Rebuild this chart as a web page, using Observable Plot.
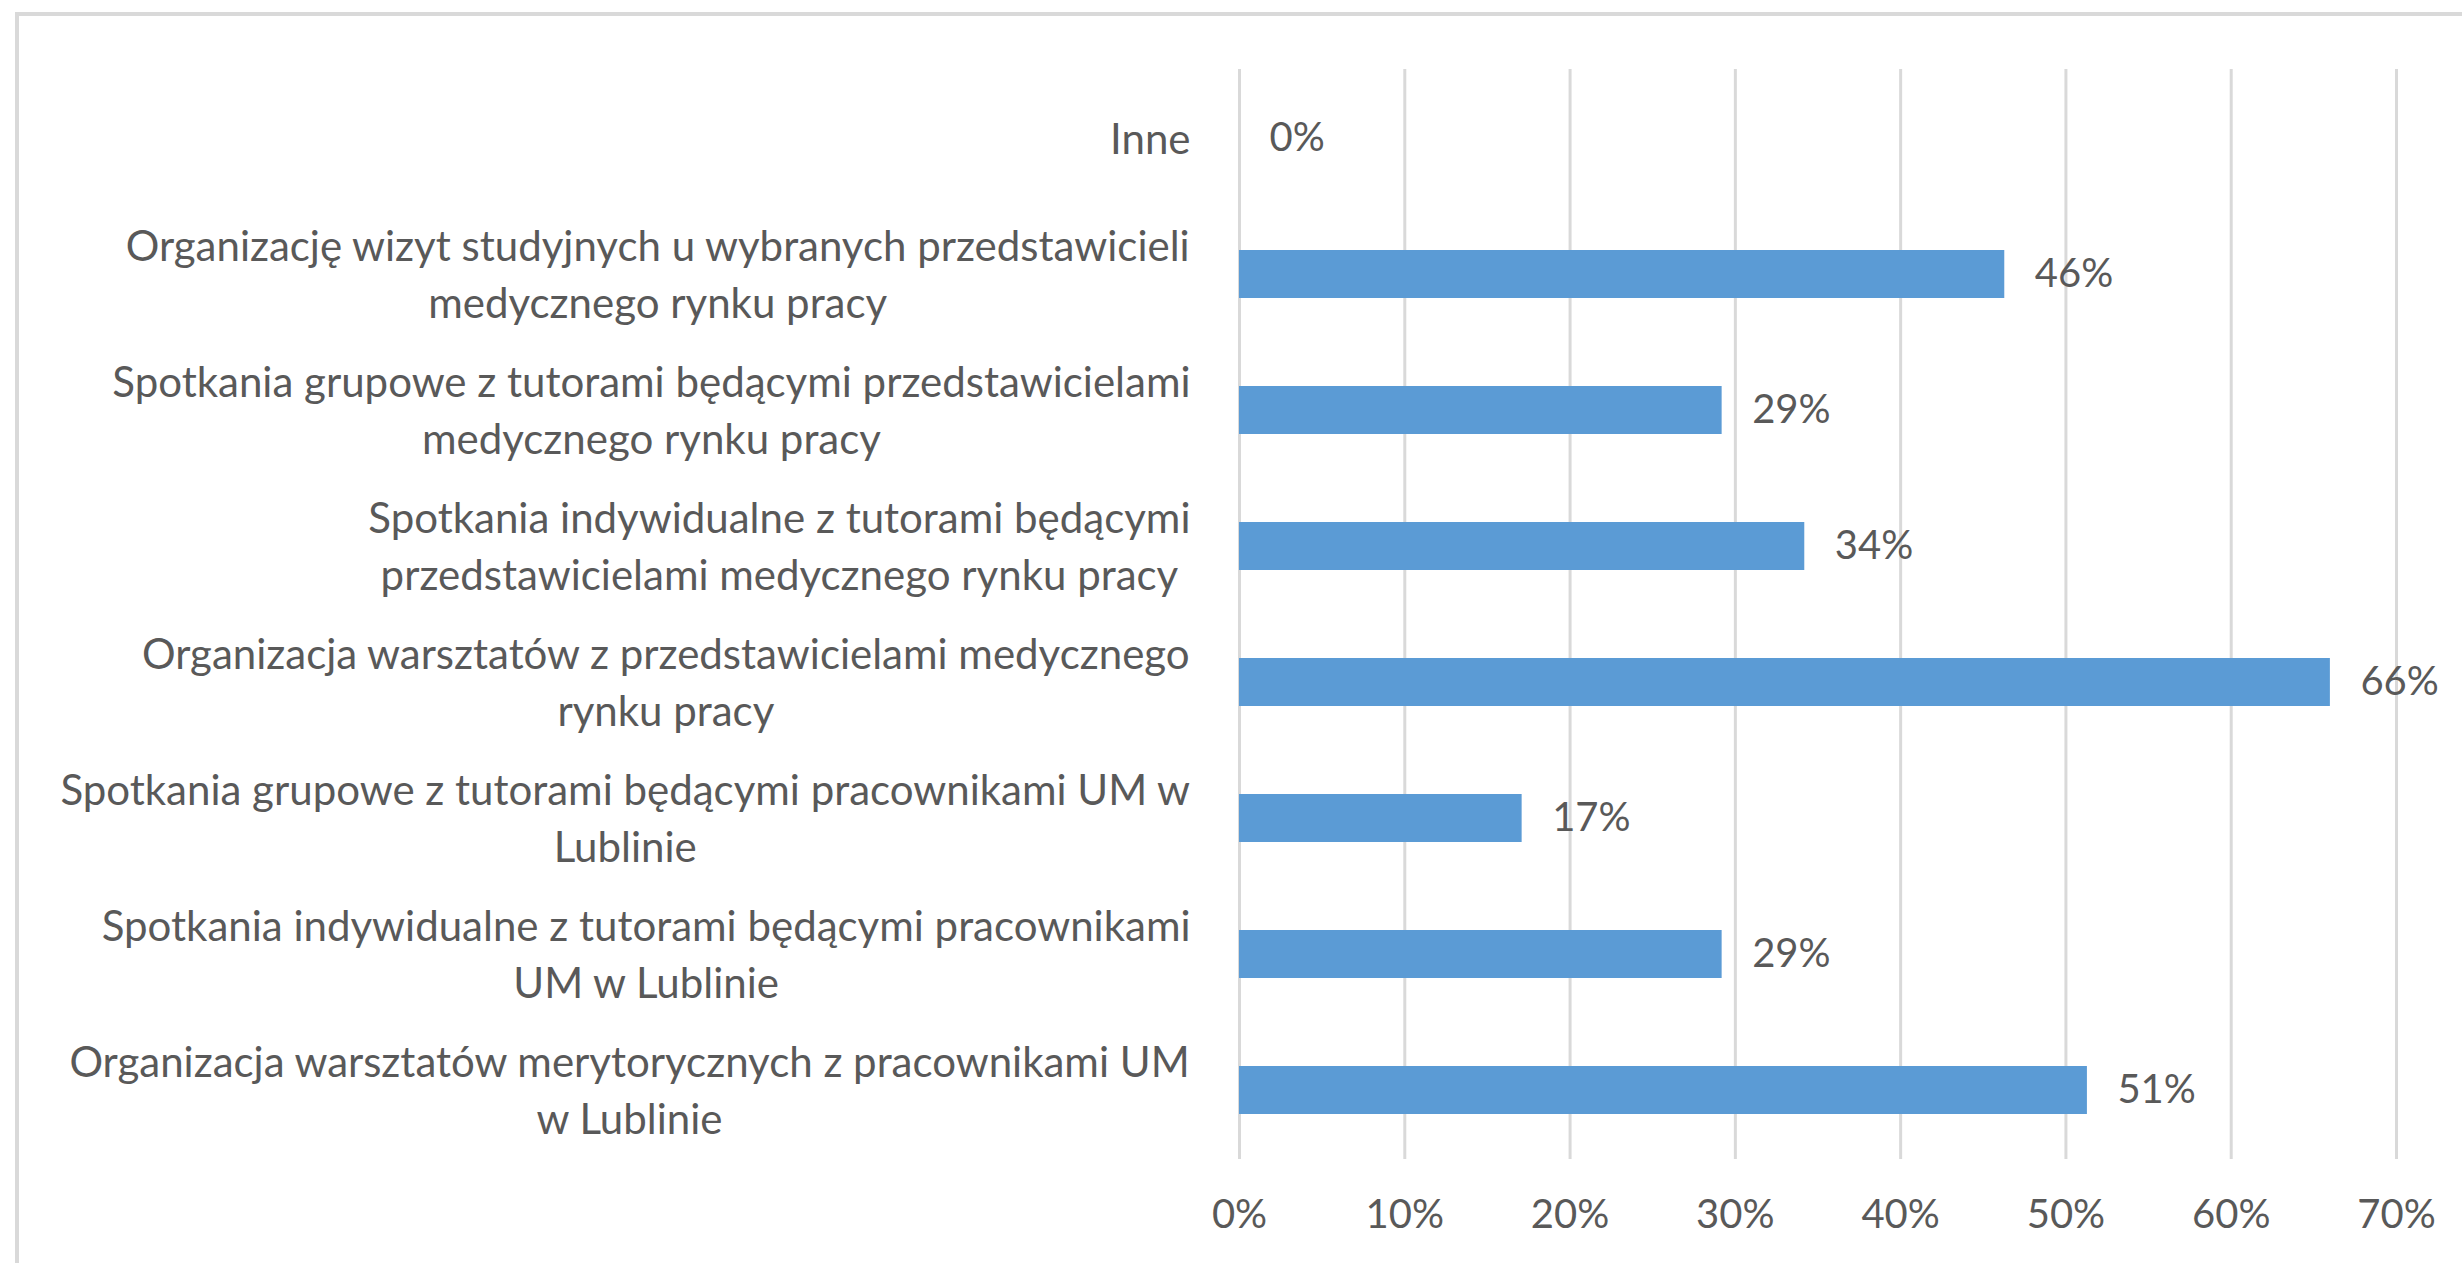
<!DOCTYPE html>
<html><head><meta charset="utf-8">
<script src="https://cdn.jsdelivr.net/npm/d3@7"></script>
<script src="https://cdn.jsdelivr.net/npm/@observablehq/plot@0.6"></script>
<style>
html,body{margin:0;padding:0;background:#fff;}
#wrap{position:relative;width:2462px;height:1263px;overflow:hidden;background:#fff;}
#border{position:absolute;left:15px;top:12px;width:2500px;height:1300px;border-top:4px solid #d9d9d9;border-left:4px solid #d9d9d9;}
#chart{position:absolute;left:0;top:0;}
</style></head><body>
<div id="wrap"><div id="border"></div><div id="chart"></div></div>
<script>
const categories = [
  "Inne",
  "Organizację wizyt studyjnych u wybranych przedstawicieli\nmedycznego rynku pracy",
  "Spotkania grupowe z tutorami będącymi przedstawicielami\nmedycznego rynku pracy",
  "Spotkania indywidualne z tutorami będącymi\nprzedstawicielami medycznego rynku pracy",
  "Organizacja warsztatów z przedstawicielami medycznego\nrynku pracy",
  "Spotkania grupowe z tutorami będącymi pracownikami UM w\nLublinie",
  "Spotkania indywidualne z tutorami będącymi pracownikami\nUM w Lublinie",
  "Organizacja warsztatów merytorycznych z pracownikami UM\nw Lublinie"
];
const values = [0, 0.463, 0.292, 0.342, 0.66, 0.171, 0.292, 0.513];
const xTicks = [0, 0.1, 0.2, 0.3, 0.4, 0.5, 0.6, 0.7];

const FONT = "Lato";
const FS = 40;
const LABEL_FS = 42;
const TEXT = "#595959";
const pct = d3.format(".0%");

const ctx = document.createElement("canvas").getContext("2d");
ctx.font = `${LABEL_FS}px ${FONT}`;
const blockWidth = s => d3.max(s.split("\n"), l => ctx.measureText(l).width);

const data = categories.map((c, i) => ({category: c, value: values[i]}));

const labelMarks = categories.map(c => Plot.text([c], {
  y: d => d, text: d => d, frameAnchor: "left", textAnchor: "middle",
  lineAnchor: "middle", lineHeight: 1.345, dx: -(49 + blockWidth(c) / 2), dy: -3,
  fill: TEXT, fontSize: LABEL_FS
}));

const chart = Plot.plot({
  width: 2462, height: 1263,
  marginLeft: 1239, marginRight: 66, marginTop: 69, marginBottom: 104,
  style: {fontFamily: FONT, background: "transparent", color: TEXT},
  x: {domain: [0, 0.7], axis: null, label: null},
  y: {domain: categories, axis: null, paddingInner: 0.65, paddingOuter: 0.325},
  marks: [
    Plot.gridX(xTicks, {stroke: "#d9d9d9", strokeOpacity: 1, strokeWidth: 3}),
    Plot.barX(data, {x: "value", y: "category", fill: "#5b9bd5"}),
    Plot.text(data, {x: "value", y: "category", text: d => pct(d.value), textAnchor: "start", dx: 30, fill: TEXT, fontSize: FS}),
    Plot.axisX(xTicks, {tickFormat: pct, tickSize: 0, tickPadding: 40, fontSize: FS, fill: TEXT, label: null}),
    ...labelMarks
  ]
});
document.getElementById("chart").append(chart);
</script>
</body></html>
